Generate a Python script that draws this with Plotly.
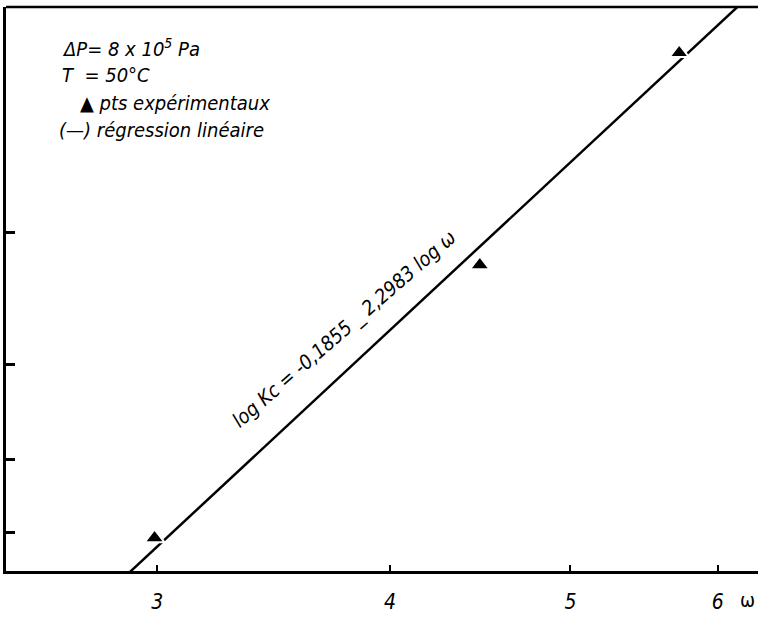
import plotly.graph_objects as go

omega_pts = [2.99, 4.47, 5.72]
kc_pts = [0.0509, 0.0221, 0.01156]

# regression line ends: log Kc = -0.1855 - 2.2983 log omega
fit_omega = [2.85, 6.2]
fit_kc = [0.0588, 0.00985]

x_ticks = [3, 4, 5, 6]
y_ticks = [0.01, 0.02, 0.03, 0.04, 0.05]

FONT = "DejaVu Sans Condensed, Liberation Sans Narrow, DejaVu Sans"

fig = go.Figure()

fig.add_trace(go.Scatter(
    x=fit_omega, y=fit_kc, mode="lines",
    line=dict(color="black", width=2.5),
    showlegend=False, hoverinfo="skip"
))

fig.add_trace(go.Scatter(
    x=omega_pts, y=kc_pts, mode="markers",
    marker=dict(symbol="triangle-up", size=17, color="black",
                line=dict(color="white", width=2)),
    showlegend=False, cliponaxis=False
))

fig.update_xaxes(
    type="log", range=[0.3959, 0.7997],
    tickvals=x_ticks, ticktext=[str(v) for v in x_ticks],
    ticks="inside", ticklen=6, tickwidth=2, tickcolor="black",
    showline=True, linecolor="black", linewidth=3,
    showgrid=False, zeroline=False, ticklabelstandoff=10,
    tickfont=dict(family=FONT, size=21, color="black", style="italic")
)
fig.update_yaxes(
    type="log", range=[-1.2494, -1.9979],
    tickvals=y_ticks, showticklabels=False,
    ticks="inside", ticklen=9, tickwidth=3, tickcolor="black",
    showline=True, linecolor="black", linewidth=3,
    showgrid=False, zeroline=False
)

txt = dict(family=FONT, size=20, color="black", style="italic")
notes = [
    ("ΔP= 8 x 10<sup>5</sup> Pa", 0.0718, 0.927),
    ("T  = 50°C", 0.0718, 0.879),
    ("▲ pts expérimentaux", 0.0957, 0.830),
    ("(—) régression linéaire", 0.0678, 0.782),
]
for text, xp, yp in notes:
    fig.add_annotation(text=text, x=xp, y=yp, xref="paper", yref="paper",
                       xanchor="left", yanchor="middle", showarrow=False, font=txt)

fig.add_annotation(text="log Kc = -0,1855 _ 2,2983 log ω", x=0.449, y=0.429,
                   xref="paper", yref="paper", textangle=-41,
                   showarrow=False, font=txt)
fig.add_annotation(text="ω", x=0.999, y=-0.052, xref="paper", yref="paper",
                   xanchor="right", yanchor="middle",
                   showarrow=False, font=dict(family=FONT, size=20, color="black"))

# top border of the frame
fig.add_shape(type="line", xref="paper", yref="paper", x0=0, x1=1, y0=1, y1=1,
              line=dict(color="black", width=2.5))

fig.update_layout(
    width=758, height=617,
    margin=dict(l=6, r=0, t=7, b=46),
    plot_bgcolor="white", paper_bgcolor="white",
)

fig.write_html("out.html", config={"displayModeBar": False},
               post_script="document.body.style.margin='0px';")
